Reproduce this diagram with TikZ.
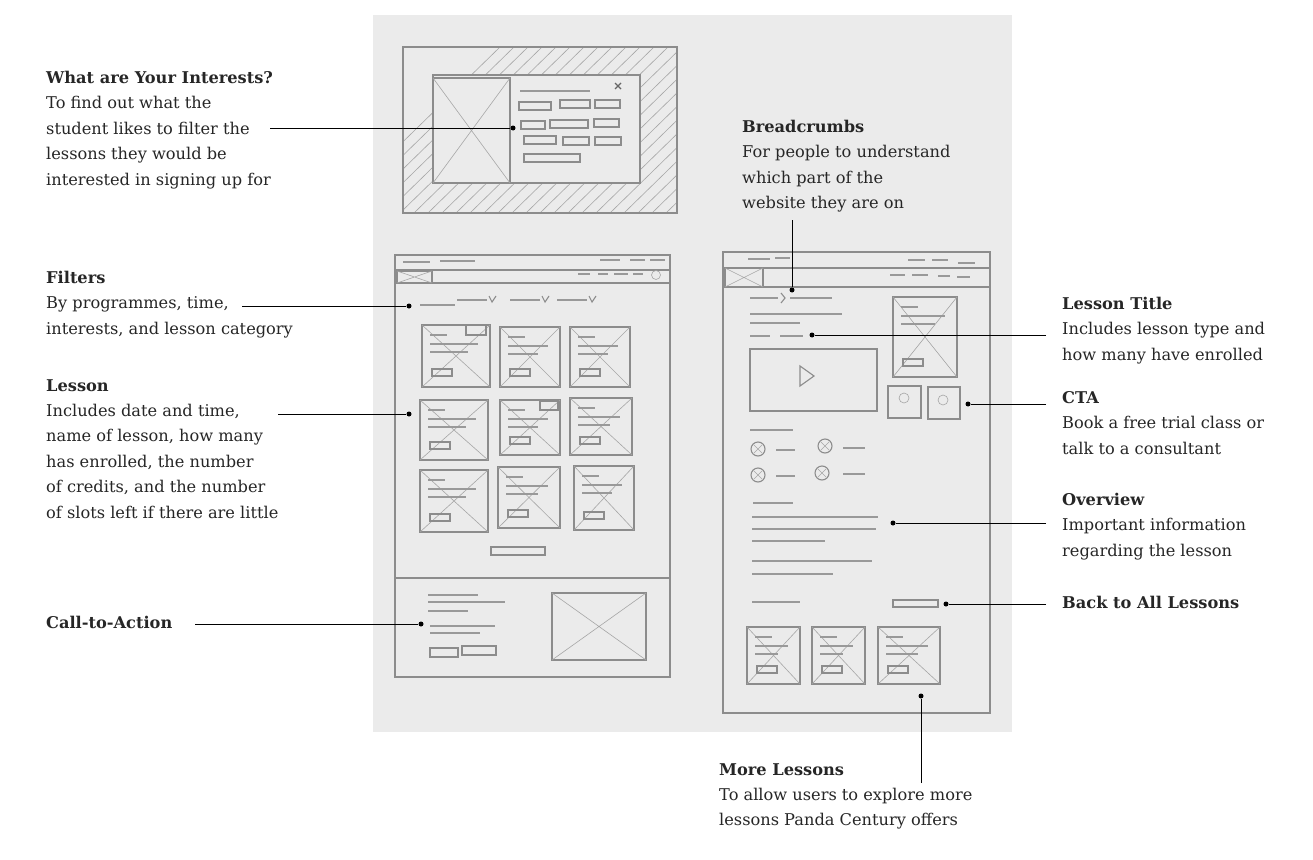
\documentclass[tikz,border=0pt]{standalone}
\usepackage{fontspec}
\setmainfont{DejaVu Serif}
\begin{document}
\begin{tikzpicture}[x=1pt,y=-1pt,
  sk/.style={draw=black!45,line width=1.1pt},
  skt/.style={draw=black!35,line width=0.6pt},
  tl/.style={draw=black!40,line width=1.4pt},
  conn/.style={draw=black,line width=0.8pt},
  dot/.style={circle,fill=black,inner sep=0pt,minimum size=5pt},
  lab/.style={anchor=north west,align=left,inner sep=0pt,text=black!85,font=\fontsize{16.2}{25.4}\selectfont}]
\useasboundingbox (0,0) rectangle (1313,859);
\fill[white] (0,0) rectangle (1313,859);
\fill[black!8] (373,15) rectangle (1012,732);
\newcommand{\xbox}[4]{\draw[sk] (#1,#2) rectangle (#3,#4); \draw[skt] (#1,#2)--(#3,#4) (#1,#4)--(#3,#2);}
\newcommand{\card}[4]{\xbox{#1}{#2}{#3}{#4}
  \draw[tl] ({#1+8},{#2+10})--({#1+25},{#2+10}) ({#1+8},{#2+19})--({#3-12},{#2+19}) ({#1+8},{#2+27})--({#3-22},{#2+27});
  \draw[sk] ({#1+10},{#4-18}) rectangle ({#1+30},{#4-11});}
% popup
\begin{scope}
\clip (403,47) rectangle (677,213);
\foreach \i in {0,...,30} \draw[skt] ({330+\i*14},213)--({330+\i*14+170},47);
\end{scope}
\fill[black!8] (433,75) rectangle (640,183);
\draw[sk] (403,47) rectangle (677,213);
\draw[sk] (433,75) rectangle (640,183);
\xbox{433}{78}{510}{183}
\draw[tl] (520,91)--(590,91);
\draw[black!60,line width=1.2pt] (615,83)--(621,89) (615,89)--(621,83);
\foreach \x/\y/\w in {519/106/32, 560/104/30, 595/104/25, 521/125/24, 550/124/38, 594/123/25, 524/140/32, 563/141/26, 595/141/26, 524/158/56}
  \draw[sk] (\x,{\y-4}) rectangle ({\x+\w},{\y+4});
% left page
\draw[sk] (395,255) rectangle (670,677);
\draw[sk] (395,270)--(670,270) (395,283)--(670,283) (395,578)--(670,578);
\draw[sk] (397,271) rectangle (432,283); \draw[skt] (397,271)--(432,283) (397,283)--(432,271);
\draw[tl] (403,262)--(430,262) (440,261)--(475,261) (600,260)--(620,260) (630,260)--(645,260) (650,260)--(665,260)
  (578,274)--(590,274) (598,274)--(608,274) (614,274)--(628,274) (633,274)--(643,274);
\draw[skt] (656,275) circle (4.5);
\draw[tl] (420,305)--(455,305);
\foreach \x in {487,540,587} {\draw[tl] ({\x-30},300)--(\x,300); \draw[sk] ({\x+2},296)--({\x+5},302)--({\x+9},296);}
\card{422}{325}{490}{387}\card{500}{327}{560}{387}\card{570}{327}{630}{387}
\card{420}{400}{488}{460}\card{500}{400}{560}{455}\card{570}{398}{632}{455}
\card{420}{470}{488}{532}\card{498}{467}{560}{528}\card{574}{466}{634}{530}
\draw[sk] (466,325) rectangle (486,335); \draw[sk] (540,401) rectangle (558,410);
\draw[sk] (491,547) rectangle (545,555);
\draw[tl] (428,595)--(478,595) (428,602)--(505,602) (428,611)--(468,611) (430,626)--(495,626) (430,633)--(480,633);
\draw[sk] (430,648) rectangle (458,657) (462,646) rectangle (496,655);
\xbox{552}{593}{646}{660}
% right page
\draw[sk] (723,252) rectangle (990,713);
\draw[sk] (723,268)--(990,268) (723,287)--(990,287);
\draw[sk] (725,268) rectangle (763,287); \draw[skt] (725,268)--(763,287) (725,287)--(763,268);
\draw[tl] (748,259)--(770,259) (775,258)--(790,258) (908,260)--(925,260) (932,260)--(948,260) (958,263)--(975,263)
  (890,275)--(905,275) (912,275)--(928,275) (938,276)--(950,276) (957,277)--(970,277);
\draw[tl] (750,298)--(778,298) (790,298)--(832,298);
\draw[sk] (781,293)--(785,298)--(781,303);
\draw[tl] (750,314)--(842,314) (750,323)--(800,323) (750,336)--(770,336) (780,336)--(803,336);
\draw[sk] (750,349) rectangle (877,411);
\draw[sk] (800,366)--(814,376)--(800,386)--cycle;
\card{893}{297}{957}{377}
\draw[sk] (888,386) rectangle (921,418) (928,387) rectangle (960,419);
\draw[skt] (904,398) circle (5) (943,400) circle (5);
\draw[tl] (750,430)--(793,430);
\foreach \x/\y in {758/449,825/446,758/475,822/473}
  {\draw[sk] (\x,\y) circle (7); \draw[skt] ({\x-4},{\y-4})--({\x+4},{\y+4}) ({\x-4},{\y+4})--({\x+4},{\y-4});}
\draw[tl] (776,450)--(795,450) (843,448)--(865,448) (776,476)--(795,476) (843,474)--(865,474);
\draw[tl] (753,503)--(793,503) (752,517)--(878,517) (752,529)--(876,529) (752,541)--(825,541) (752,561)--(872,561) (752,574)--(833,574) (752,602)--(800,602);
\draw[sk] (893,600) rectangle (938,607);
\card{747}{627}{800}{684}\card{812}{627}{865}{684}\card{878}{627}{940}{684}
% dots
\node[dot] (d1) at (513,128) {}; \node[dot] (d2) at (409,306) {}; \node[dot] (d3) at (409,414) {};
\node[dot] (d4) at (421,624) {}; \node[dot] (d5) at (792,290) {}; \node[dot] (d6) at (812,335) {};
\node[dot] (d7) at (968,404) {}; \node[dot] (d8) at (893,523) {}; \node[dot] (d9) at (946,604) {};
\node[dot] (d10) at (921,696) {};
\coordinate (e1) at (270,128); \coordinate (e2) at (242,306); \coordinate (e3) at (278,414); \coordinate (e4) at (195,624);
\coordinate (e5) at (792,220); \coordinate (e6) at (1046,335); \coordinate (e7) at (1046,404); \coordinate (e8) at (1046,523);
\coordinate (e9) at (1046,604); \coordinate (e10) at (921,783);
\foreach \i in {1,...,10} \draw[conn] (e\i)--(d\i);
% labels
\node[lab] (t1) at (46,71) {\textbf{What are Your Interests?}\\To find out what the\\student likes to filter the\\lessons they would be\\interested in signing up for};
\node[lab] (t2) at (46,271) {\textbf{Filters}\\By programmes, time,\\interests, and lesson category};
\node[lab] (t3) at (46,379) {\textbf{Lesson}\\Includes date and time,\\name of lesson, how many\\has enrolled, the number\\of credits, and the number\\of slots left if there are little};
\node[lab] (t4) at (46,616) {\textbf{Call-to-Action}};
\node[lab] (t5) at (742,120) {\textbf{Breadcrumbs}\\For people to understand\\which part of the\\website they are on};
\node[lab] (t6) at (1062,297) {\textbf{Lesson Title}\\Includes lesson type and\\how many have enrolled};
\node[lab] (t7) at (1062,391) {\textbf{CTA}\\Book a free trial class or\\talk to a consultant};
\node[lab] (t8) at (1062,493) {\textbf{Overview}\\Important information\\regarding the lesson};
\node[lab] (t9) at (1062,596) {\textbf{Back to All Lessons}};
\node[lab] (t10) at (719,763) {\textbf{More Lessons}\\To allow users to explore more\\lessons Panda Century offers};
\end{tikzpicture}
\end{document}
